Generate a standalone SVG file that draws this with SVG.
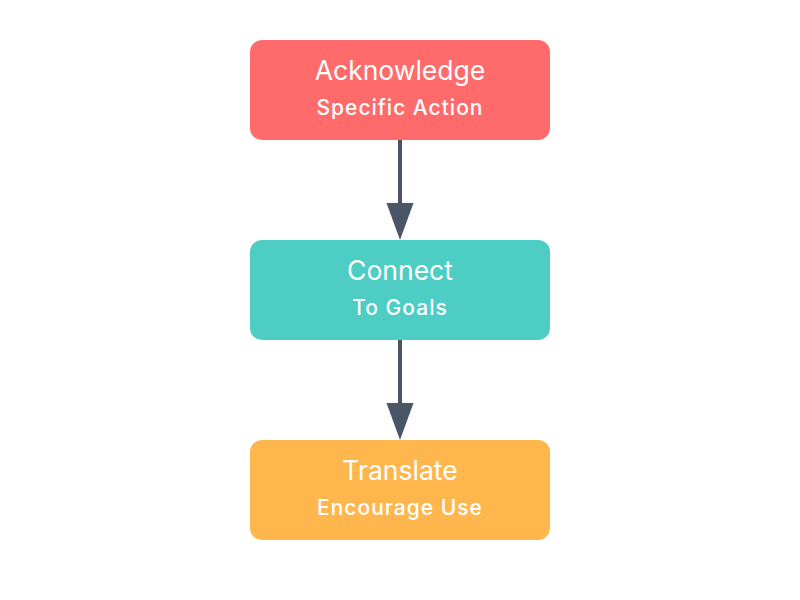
<svg xmlns="http://www.w3.org/2000/svg" width="800" height="600" viewBox="0 0 800 600">
<style>
.t{font-family:Inter,"Noto Sans","Liberation Sans",sans-serif;fill:#ffffff;text-anchor:middle}
.title{font-size:26.5px;font-weight:400}
.sub{font-size:21px;font-weight:500;letter-spacing:1px}
.edge{stroke:#4A5568;stroke-width:4;fill:none}
</style>
<rect width="800" height="600" fill="#ffffff"/>
<g id="connectors">
<line class="edge" x1="400" y1="140" x2="400" y2="204"/>
<path d="M386.5,203 L413.5,203 L400,240 Z" fill="#4A5568"/>
<line class="edge" x1="400" y1="340" x2="400" y2="404"/>
<path d="M386.5,403 L413.5,403 L400,440 Z" fill="#4A5568"/>
</g>
<g id="node-acknowledge">
<rect x="250" y="40" width="300" height="100" rx="12" fill="#FF6B6B"/>
<text class="t title" x="400" y="80">Acknowledge</text>
<text class="t sub" x="400" y="115">Specific Action</text>
</g>
<g id="node-connect">
<rect x="250" y="240" width="300" height="100" rx="12" fill="#4ECDC4"/>
<text class="t title" x="400" y="280">Connect</text>
<text class="t sub" x="400" y="315">To Goals</text>
</g>
<g id="node-translate">
<rect x="250" y="440" width="300" height="100" rx="12" fill="#FFB74D"/>
<text class="t title" x="400" y="480">Translate</text>
<text class="t sub" x="400" y="515">Encourage Use</text>
</g>
</svg>
